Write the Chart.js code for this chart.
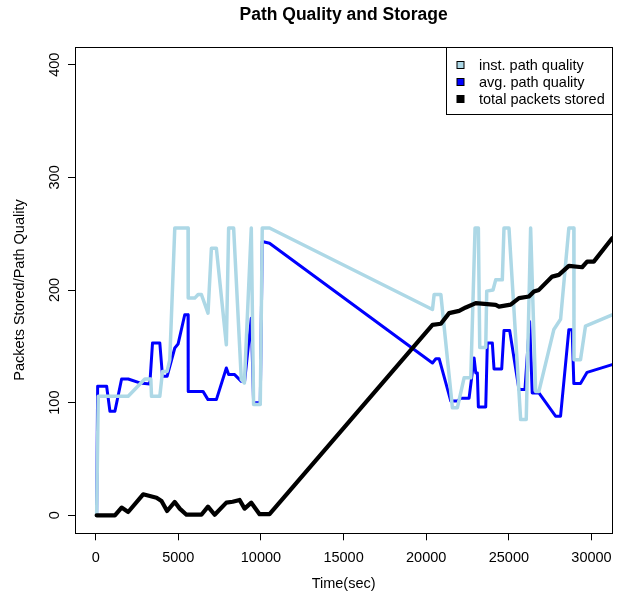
<!DOCTYPE html>
<html>
<head>
<meta charset="utf-8">
<script src="https://cdn.jsdelivr.net/npm/chart.js@4"></script>
<style>
html,body{margin:0;padding:0;background:#fff;}
#wrap{width:621px;height:604px;}
</style>
</head>
<body>
<div id="wrap"><canvas id="c" width="621" height="604"></canvas></div>
<script>
// ---------- data ----------
const seriesLabels = ['inst. path quality', 'avg. path quality', 'total packets stored'];
const seriesColors = ['#ADD8E6', '#0000FF', '#000000'];

const instTime = [60,157,1968,2976,3338,3380,3881,4044,4322,4485,4787,5590,5600,5994,6200,6398,6797,7002,7304,7907,8046,8348,8813,9000,9416,9555,9959,10080,10520,20378,20480,20885,21585,21887,22291,22696,22955,23155,23239,23601,23661,24041,24204,24603,24705,25007,25714,26052,26317,26619,26818,27724,28128,28629,28931,28940,29335,29637,31250];
const instQuality = [0,105.6,105.6,121,121,105.6,105.6,127.7,127.7,138,255,255,192.8,192.8,196,196,179.5,237,237,151.4,255,255,120.4,117.5,255,98.3,98.3,255,255,182.7,196,196,95.5,95.5,122,122,255,255,149,149,199,200,209,209,255,255,85,85,255,110,110,165,174,255,255,138,138,168,178];

const avgTime = [60,120,664,863,1165,1569,1968,2674,3278,3440,3881,4044,4322,4787,4986,5390,5590,5600,6495,6797,7304,7907,8046,8408,8813,9012,9416,9555,9959,10080,10520,20378,20583,20782,21488,21887,22093,22594,22896,22998,23094,23155,23601,23698,23999,24102,24567,24705,25049,25611,25973,26257,26413,26818,27826,28128,28629,28829,28931,29335,29734,31250];
const avgQuality = [0,114.5,114.5,92.4,92.4,121,121,117.5,116.5,153,153,123.4,123.4,148.5,152,178,178,110,110,102.7,102.7,130.8,124.9,124.9,118.9,118.9,175,99.8,99.8,243,241.5,135.2,139,139,101.4,101.4,104,104,139.6,126.4,126.4,96.2,96.2,153,153,129.9,129.9,164,164,111.6,111.6,172,108.6,108.6,88,88,164.7,164.7,116.9,116.9,126.9,133.8];

const totalTime = [60,1165,1569,1968,2873,3682,3984,4322,4787,5088,5493,6398,6797,7201,7907,8288,8710,9012,9416,9917,10520,20378,20885,21386,21990,22394,22998,24204,24403,25109,25611,26215,26517,26818,27621,28025,28629,29432,29734,30139,31250];
const totalStored = [0,0,6.8,2.9,18.6,15.6,12.7,3.8,11.8,5.9,0.5,0.5,7.7,0.5,11.2,12,13.6,5.9,11.2,1,1,169,170,179.5,181.5,184.5,188.3,186.8,185.3,187,192.8,194.2,198.6,200.1,211.9,213.4,221.4,220.2,225.2,225.2,246];

const xTicks = [0,5000,10000,15000,20000,25000,30000];
const xTickLabels = ['0','5000','10000','15000','20000','25000','30000'];
const yTicks = [0,100,200,300,400];
const yTickLabels = ['0','100','200','300','400'];
const xRange = [-1250, 31250];
const yRange = [-16, 416];

const chartTitle = 'Path Quality and Storage';
const xTitle = 'Time(sec)';
const yTitle = 'Packets Stored/Path Quality';

// ---------- helpers ----------
const FONT = "'Liberation Sans', Arial, Helvetica, sans-serif";
const toPts = (xs, ys) => xs.map((x, i) => ({x: x, y: ys[i]}));

const boxPlugin = {
  id: 'rbox',
  afterDatasetsDraw(chart) {
    const {ctx, chartArea: a} = chart;
    ctx.save();
    ctx.strokeStyle = '#000';
    ctx.lineWidth = 1;
    ctx.strokeRect(Math.round(a.left) + 0.5, Math.round(a.top) + 0.5,
                   Math.round(a.right) - Math.round(a.left), Math.round(a.bottom) - Math.round(a.top));
    ctx.restore();
  }
};

const yLabelPlugin = {
  id: 'ylabels',
  afterDraw(chart) {
    const {ctx, chartArea: a} = chart;
    const s = chart.scales.y;
    ctx.save();
    ctx.font = '14.5px ' + FONT;
    ctx.fillStyle = '#000';
    ctx.textAlign = 'center';
    ctx.textBaseline = 'middle';
    yTicks.forEach((v, i) => {
      const py = s.getPixelForValue(v);
      ctx.save();
      ctx.translate(a.left - 20, py);
      ctx.rotate(-Math.PI / 2);
      ctx.fillText(yTickLabels[i], 0, 0);
      ctx.restore();
    });
    ctx.restore();
  }
};

const legendPlugin = {
  id: 'rlegend',
  afterDraw(chart) {
    const {ctx, chartArea: a} = chart;
    const w = 166, h = 66.6;
    const x0 = Math.round(a.right - w) + 0.5, y0 = Math.round(a.top) + 0.5;
    ctx.save();
    ctx.fillStyle = '#fff';
    ctx.fillRect(x0, y0, w, h);
    ctx.strokeStyle = '#000';
    ctx.lineWidth = 1;
    ctx.strokeRect(x0, y0, Math.round(a.right) - x0 + 0.5, Math.round(h));
    ctx.font = '14.5px ' + FONT;
    chart.data.datasets.forEach((ds, i) => {
      const cy = Math.round(y0 + 17.3 + i * 17.2);
      ctx.fillStyle = ds.borderColor;
      ctx.fillRect(x0 + 10.5, cy - 3.5, 7, 7);
      ctx.strokeStyle = '#000';
      ctx.strokeRect(x0 + 10.5, cy - 3.5, 7, 7);
      ctx.fillStyle = '#000';
      ctx.textAlign = 'left';
      ctx.textBaseline = 'middle';
      ctx.fillText(ds.label, x0 + 32.5, cy + 0.5);
    });
    ctx.restore();
  }
};

const lineDs = (label, color, pts, width, order) => ({
  label: label,
  data: pts,
  borderColor: color,
  backgroundColor: color,
  borderWidth: width,
  pointRadius: 0,
  tension: 0,
  fill: false,
  borderJoinStyle: 'round',
  borderCapStyle: 'round',
  order: order
});

new Chart(document.getElementById('c'), {
  type: 'line',
  data: {
    datasets: [
      lineDs(seriesLabels[0], seriesColors[0], toPts(instTime, instQuality), 3.5, 1),
      lineDs(seriesLabels[1], seriesColors[1], toPts(avgTime, avgQuality), 3, 2),
      lineDs(seriesLabels[2], seriesColors[2], toPts(totalTime, totalStored), 4.2, 0)
    ]
  },
  options: {
    responsive: false,
    animation: false,
    devicePixelRatio: 1,
    layout: {padding: {left: 0, right: 7.7, top: 0, bottom: 0}},
    plugins: {
      legend: {display: false},
      tooltip: {enabled: false},
      title: {
        display: true,
        text: chartTitle,
        fullSize: false,
        color: '#000',
        font: {family: FONT, size: 17.5, weight: 'bold'},
        padding: {top: 5, bottom: 20.7}
      }
    },
    scales: {
      x: {
        type: 'linear',
        min: xRange[0],
        max: xRange[1],
        afterBuildTicks: s => { s.ticks = xTicks.map(v => ({value: v})); },
        afterFit: s => { s.height = 70.7; },
        ticks: {
          autoSkip: false,
          maxRotation: 0,
          minRotation: 0,
          color: '#000',
          padding: 9,
          font: {family: FONT, size: 14.5},
          callback: (v, i) => xTickLabels[i]
        },
        grid: {display: true, drawOnChartArea: false, drawTicks: true, tickLength: 7, color: '#000', lineWidth: 1},
        border: {display: false},
        title: {display: true, text: xTitle, color: '#000', font: {family: FONT, size: 14.5}, padding: {top: 0, bottom: 11}}
      },
      y: {
        type: 'linear',
        min: yRange[0],
        max: yRange[1],
        afterBuildTicks: s => { s.ticks = yTicks.map(v => ({value: v})); },
        afterFit: s => { s.width = 75; },
        ticks: {display: false},
        grid: {display: true, drawOnChartArea: false, drawTicks: true, tickLength: 7, color: '#000', lineWidth: 1},
        border: {display: false},
        title: {display: true, text: yTitle, color: '#000', font: {family: FONT, size: 14.5}, padding: {top: 11, bottom: 0}}
      }
    }
  },
  plugins: [boxPlugin, yLabelPlugin, legendPlugin]
});
</script>
</body>
</html>
